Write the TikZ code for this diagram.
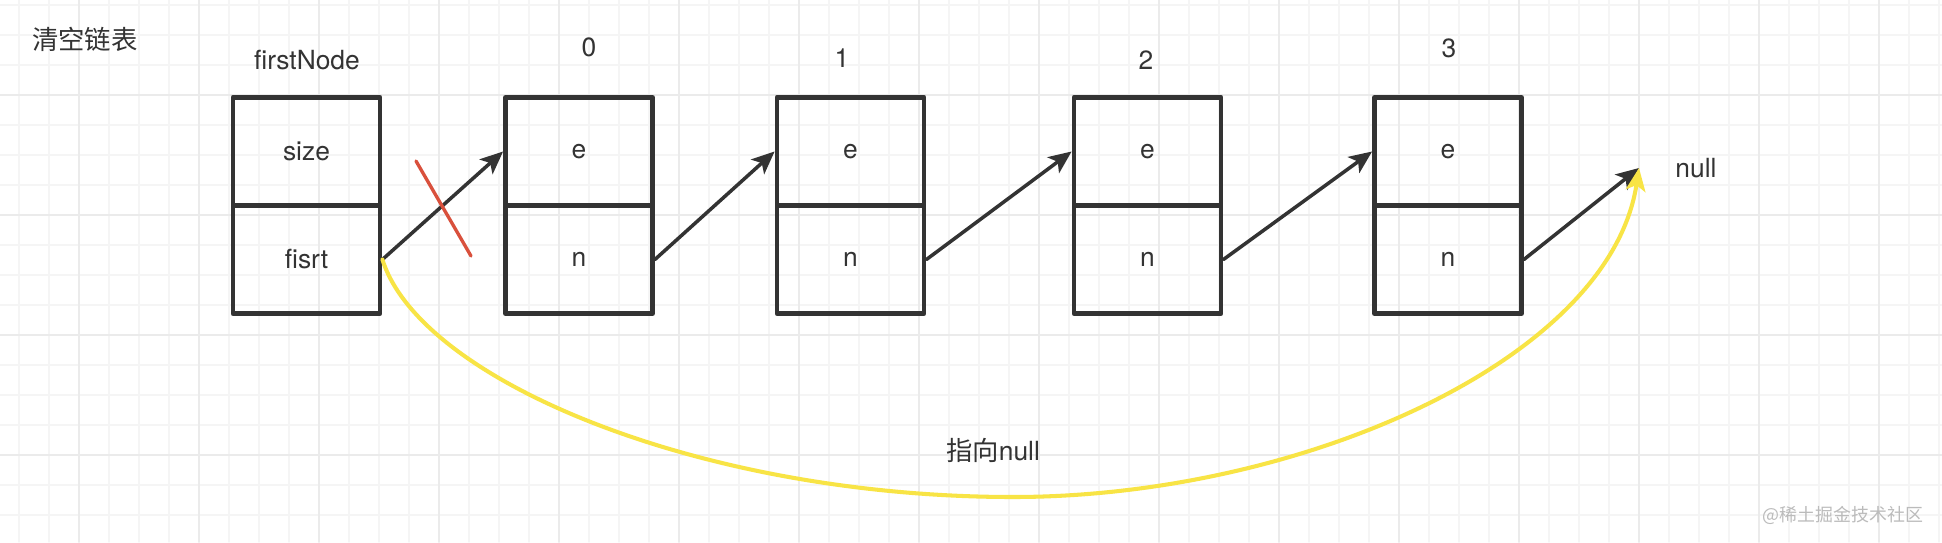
\documentclass[tikz,border=0pt]{standalone}
\usepackage{fontspec}
\setmainfont{TeX Gyre Heros}
\newfontfamily\cjk{Noto Sans CJK SC}
\usepackage{tikz}
\usetikzlibrary{arrows.meta}
\definecolor{ink}{HTML}{333333}
\definecolor{strike}{HTML}{D9503C}
\definecolor{hilite}{HTML}{F8E445}
\definecolor{gridminor}{HTML}{F5F5F5}
\definecolor{gridmajor}{HTML}{EBEBEB}
\definecolor{wmark}{HTML}{BBBBBB}
\tikzset{
  every picture/.style={font=\fontsize{7.5}{9}\selectfont, line join=round, line cap=round, >={Stealth[length=6.5pt,width=5.6pt,inset=1.6pt]}},
  cell/.style={draw=ink, line width=1.35pt, minimum width=1.47cm, minimum height=1.08cm, inner sep=0pt, text=ink},
  tag/.style={text=ink, inner sep=1pt},
  link/.style={->, draw=ink, line width=1pt},
  strikeline/.style={draw=strike, line width=0.95pt},
  backlink/.style={->, draw=hilite, line width=1.15pt},
}

\begin{document}
\begin{tikzpicture}[x=0.01cm, y=-0.01cm]
\useasboundingbox (0,0) rectangle (1942,542);
\fill[white] (0,0) rectangle (1942,542);
\foreach \gx in {19,49,...,1942} \draw[gridminor, line width=0.4pt] (\gx,0) -- (\gx,542);
\foreach \gy in {5,35,...,542} \draw[gridminor, line width=0.4pt] (0,\gy) -- (1942,\gy);
\foreach \gx in {79,199,...,1942} \draw[gridmajor, line width=0.45pt] (\gx,0) -- (\gx,542);
\foreach \gy in {95,215,...,542} \draw[gridmajor, line width=0.45pt] (0,\gy) -- (1942,\gy);

\node[tag, anchor=west] (title) at (28,39) {\cjk 清空链表};
\node[tag] (headtag) at (307,60) {firstNode};
\node[cell] (size) at (306.5,151.5) {size};
\node[cell] (first) at (306.5,259.5) {fisrt};
\foreach \i/\bx in {0/579,1/850.5,2/1147.5,3/1448} {
  \node[cell] (e\i) at (\bx,151.5) {e};
  \node[cell] (n\i) at (\bx,259.5) {n};
}
\node[tag] (idx0) at (589,47) {0};
\node[tag] (idx1) at (842,58) {1};
\node[tag] (idx2) at (1146,60) {2};
\node[tag] (idx3) at (1449,48) {3};
\coordinate (nullpt) at (1639,168);
\node[tag] (nulltag) at (1696,168) {null};

\draw[link] (first.east) -- (e0.west);
\foreach \i/\j in {0/1,1/2,2/3} \draw[link] (n\i.east) -- (e\j.west);
\draw[link] (n3.east) -- (nullpt);
\draw[strikeline] (416,161) -- (471,256);
\draw[backlink] (first.east) .. controls (420,380) and (700,497) .. (1013,497)
  .. controls (1300,497) and (1610,360) .. (nullpt);
\node[tag] (backtag) at (993,450) {{\cjk 指向}null};
\node[text=wmark, font=\cjk\fontsize{5.1}{6}\selectfont] (wm) at (1843,515) {@稀土掘金技术社区};
\end{tikzpicture}
\end{document}
